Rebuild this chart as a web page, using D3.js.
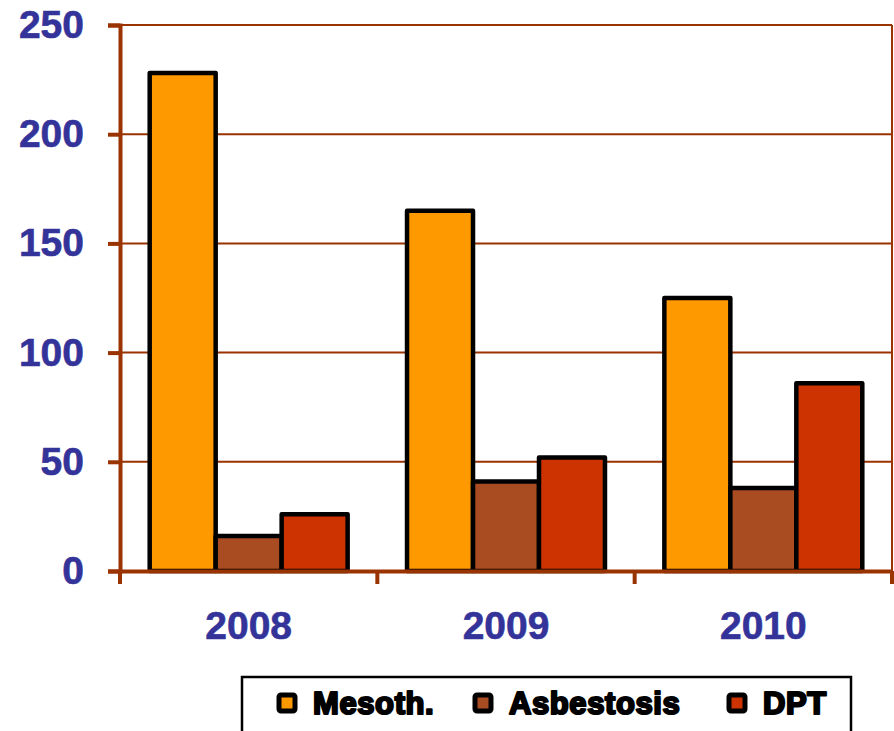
<!DOCTYPE html>
<html>
<head>
<meta charset="utf-8">
<script src="https://cdn.jsdelivr.net/npm/d3@7"></script>
<style>
  body { margin: 0; background: #fff; }
  svg { display: block; }
</style>
</head>
<body>
<div id="chart"></div>
<script>
// Data
const years = ["2008", "2009", "2010"];
const seriesNames = ["Mesoth.", "Asbestosis", "DPT"];
const mesoth = [228, 165, 125];
const asbestosis = [16, 41, 38];
const dpt = [26, 52, 86];
const yTicks = [0, 50, 100, 150, 200, 250];

const seriesValues = [mesoth, asbestosis, dpt];
const colors = ["#ff9900", "#aa4c22", "#cc3300"];
const brown = "#993300";
const labelBlue = "#333399";
const font = "'Liberation Sans', Arial, sans-serif";

const width = 894, height = 731;
const plotLeft = 120, plotRight = 892, plotTop = 25, plotBottom = 571;

const svg = d3.select("#chart")
    .append("svg")
    .attr("width", width)
    .attr("height", height);

const x0 = d3.scaleBand().domain(years).range([plotLeft, plotRight]).padding(0);
const x1 = d3.scaleBand().domain(seriesNames).range([0, x0.bandwidth()])
    .paddingInner(0).paddingOuter(0.45);
const y = d3.scaleLinear().domain([0, 250]).range([plotBottom, plotTop]);

// gridlines
svg.append("g")
    .selectAll("line")
    .data(yTicks.filter(d => d > 0))
    .enter()
    .append("line")
    .attr("x1", plotLeft)
    .attr("x2", plotRight)
    .attr("y1", d => y(d))
    .attr("y2", d => y(d))
    .attr("stroke", brown)
    .attr("stroke-width", 2);

// right border
svg.append("line")
    .attr("x1", plotRight).attr("x2", plotRight)
    .attr("y1", plotTop).attr("y2", plotBottom)
    .attr("stroke", brown)
    .attr("stroke-width", 2);

// bars
const groups = svg.append("g")
    .selectAll("g")
    .data(years)
    .enter()
    .append("g")
    .attr("transform", d => `translate(${x0(d)},0)`);

groups.selectAll("rect")
    .data((d, i) => seriesNames.map((s, j) => ({ series: s, value: seriesValues[j][i], color: colors[j] })))
    .enter()
    .append("rect")
    .attr("x", d => x1(d.series))
    .attr("width", x1.bandwidth())
    .attr("y", d => y(d.value))
    .attr("height", d => y(0) - y(d.value))
    .attr("fill", d => d.color)
    .attr("stroke", "#000")
    .attr("stroke-width", 4.5)
    .attr("stroke-linejoin", "round");

// y axis
const yAxis = svg.append("g")
    .attr("transform", `translate(${plotLeft},0)`)
    .call(d3.axisLeft(y).tickValues(yTicks).tickSize(12).tickPadding(24));
yAxis.select(".domain").attr("stroke", brown).attr("stroke-width", 4);
yAxis.selectAll(".tick line").attr("stroke", brown).attr("stroke-width", 4);
yAxis.selectAll(".tick text")
    .attr("fill", labelBlue)
    .attr("stroke", labelBlue)
    .attr("stroke-width", 0.6)
    .style("font-family", font)
    .style("font-weight", "bold")
    .style("font-size", "39px");

// x axis
const xAxis = svg.append("g")
    .attr("transform", `translate(0,${plotBottom})`)
    .call(d3.axisBottom(x0).tickSize(0).tickPadding(40));
xAxis.select(".domain").attr("stroke", brown).attr("stroke-width", 4);
xAxis.selectAll(".tick text")
    .attr("fill", labelBlue)
    .attr("stroke", labelBlue)
    .attr("stroke-width", 0.6)
    .style("font-family", font)
    .style("font-weight", "bold")
    .style("font-size", "39px");

// x tick marks at category boundaries
const bounds = years.map(d => x0(d)).concat([plotRight]);
xAxis.append("g")
    .selectAll("line")
    .data(bounds)
    .enter()
    .append("line")
    .attr("x1", d => d)
    .attr("x2", d => d)
    .attr("y1", 0)
    .attr("y2", 13)
    .attr("stroke", brown)
    .attr("stroke-width", 4);

// legend
const legend = svg.append("g");
legend.append("rect")
    .attr("x", 242)
    .attr("y", 677)
    .attr("width", 609)
    .attr("height", 70)
    .attr("fill", "#fff")
    .attr("stroke", "#000")
    .attr("stroke-width", 2.5);

const legendX = [277, 473, 727];
const items = legend.selectAll("g.item")
    .data(seriesNames)
    .enter()
    .append("g")
    .attr("class", "item")
    .attr("transform", (d, i) => `translate(${legendX[i]},693)`);

items.append("rect")
    .attr("x", 2)
    .attr("y", 2)
    .attr("width", 16)
    .attr("height", 16)
    .attr("rx", 2)
    .attr("fill", (d, i) => colors[i])
    .attr("stroke", "#000")
    .attr("stroke-width", 5);

items.append("text")
    .attr("x", 36)
    .attr("y", 21)
    .text(d => d)
    .attr("fill", "#000")
    .attr("stroke", "#000")
    .attr("stroke-width", 2.2)
    .attr("stroke-linejoin", "round")
    .style("letter-spacing", "0.6px")
    .style("font-family", font)
    .style("font-weight", "bold")
    .style("font-size", "31px");
</script>
</body>
</html>
